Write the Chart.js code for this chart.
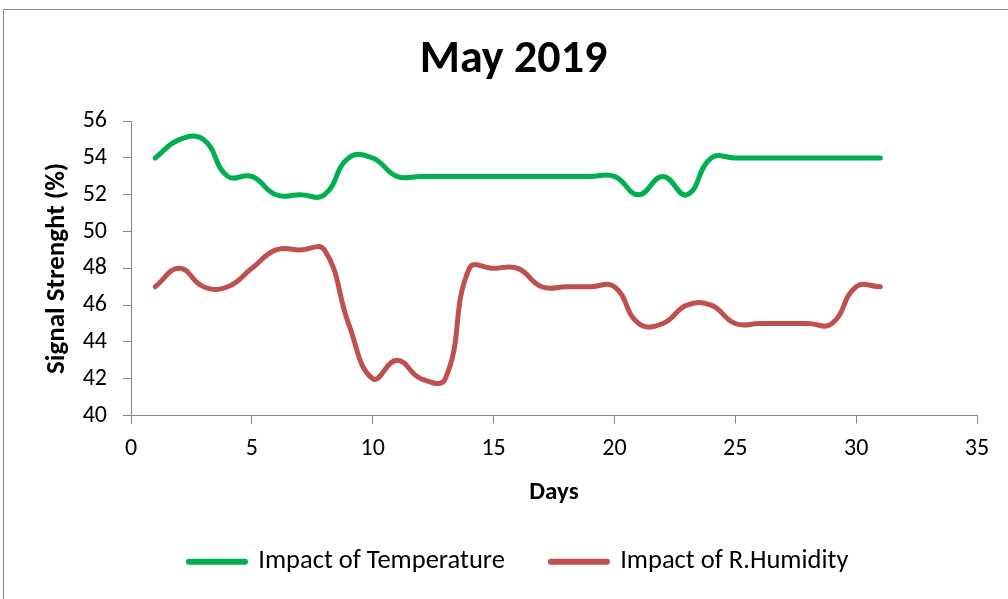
<!DOCTYPE html>
<html>
<head>
<meta charset="utf-8">
<title>May 2019</title>
<script src="https://cdn.jsdelivr.net/npm/chart.js@4.4.1/dist/chart.umd.min.js"></script>
<style>
  html, body { margin: 0; padding: 0; background: #fff; }
  #wrap { position: relative; width: 1008px; height: 599px; overflow: hidden; }
</style>
</head>
<body>
<div id="wrap"><canvas id="chart" width="1008" height="599"></canvas></div>
<script>
// Chart data
const days = [1, 2, 3, 4, 5, 6, 7, 8, 9, 10, 11, 12, 13, 14, 15, 16, 17, 18, 19, 20, 21, 22, 23, 24, 25, 26, 27, 28, 29, 30, 31];
const temperature = [54, 55, 55, 53, 53, 52, 52, 52, 54, 54, 53, 53, 53, 53, 53, 53, 53, 53, 53, 53, 52, 53, 52, 54, 54, 54, 54, 54, 54, 54, 54];
const humidity = [47, 48, 47, 47, 48, 49, 49, 49, 45, 42, 43, 42, 42, 48, 48, 48, 47, 47, 47, 47, 45, 45, 46, 46, 45, 45, 45, 45, 45, 47, 47];
const seriesLabels = ['Impact of Temperature', 'Impact of R.Humidity'];
const xTicks = [0, 5, 10, 15, 20, 25, 30, 35];
const yTicks = [40, 42, 44, 46, 48, 50, 52, 54, 56];

const FONT = 'Carlito, Lato, "Noto Sans", sans-serif';
const AXIS_GRAY = '#868686';

// white page + grey frame round the chart (right/bottom edges run off the page)
const framePlugin = {
    id: 'frame',
    beforeDraw(chart) {
        const ctx = chart.ctx;
        ctx.save();
        ctx.fillStyle = '#fff';
        ctx.fillRect(0, 0, chart.width, chart.height);
        ctx.strokeStyle = '#8a8a8a';
        ctx.lineWidth = 1;
        ctx.strokeRect(3.5, 9.5, chart.width + 20, chart.height + 20);
        ctx.restore();
    }
};

// title and legend sit a little right of the canvas centre in the original
const nudgePlugin = {
    id: 'nudge',
    afterLayout(chart) {
        const t = chart.titleBlock;
        if (t) { t.left += 20; t.right += 20; }
        const lg = chart.legend;
        if (lg && lg.lineWidths) {
            const pad = lg.options.labels.padding;
            const start = (lg.left + pad + lg.right - lg.lineWidths[0]) / 2;
            const dx = 189 - start;
            lg.left += dx;
            lg.right += dx;
        }
    }
};

function toPoints(values) {
    return days.map((d, i) => ({ x: d, y: values[i] }));
}

const ctx = document.getElementById('chart').getContext('2d');
new Chart(ctx, {
    type: 'line',
    data: {
        datasets: [
            {
                label: seriesLabels[0],
                data: toPoints(temperature),
                borderColor: '#00B050',
                backgroundColor: '#00B050',
                borderWidth: 5,
                pointRadius: 0,
                tension: 0.45,
                borderCapStyle: 'round',
                borderJoinStyle: 'round'
            },
            {
                label: seriesLabels[1],
                data: toPoints(humidity),
                borderColor: '#C0504D',
                backgroundColor: '#C0504D',
                borderWidth: 5,
                pointRadius: 0,
                tension: 0.45,
                borderCapStyle: 'round',
                borderJoinStyle: 'round'
            }
        ]
    },
    options: {
        responsive: false,
        animation: false,
        devicePixelRatio: 1,
        layout: {
            padding: { top: 33, left: 10, right: 31, bottom: 14 }
        },
        plugins: {
            title: {
                display: true,
                text: 'May 2019',
                color: '#000',
                font: { family: FONT, size: 46, weight: 'bold' },
                padding: { top: 0, bottom: 33 }
            },
            legend: {
                position: 'bottom',
                labels: {
                    usePointStyle: true,
                    pointStyleWidth: 56,
                    padding: 46,
                    color: '#000',
                    font: { family: FONT, size: 26.5 },
                    generateLabels(chart) {
                        return chart.data.datasets.map((ds, i) => ({
                            text: ds.label,
                            fillStyle: ds.borderColor,
                            strokeStyle: ds.borderColor,
                            lineWidth: 6,
                            lineCap: 'round',
                            pointStyle: 'line',
                            hidden: false,
                            datasetIndex: i
                        }));
                    }
                }
            },
            tooltip: { enabled: false }
        },
        scales: {
            x: {
                type: 'linear',
                min: 0,
                max: 35,
                afterBuildTicks(scale) {
                    scale.ticks = xTicks.map(v => ({ value: v }));
                },
                afterFit(scale) {
                    scale.height = 87;
                },
                ticks: {
                    padding: 11,
                    color: '#000',
                    font: { family: FONT, size: 24 }
                },
                grid: {
                    drawOnChartArea: false,
                    tickLength: 8,
                    color: AXIS_GRAY
                },
                border: { color: AXIS_GRAY, width: 1 },
                title: {
                    display: true,
                    text: 'Days',
                    color: '#000',
                    font: { family: FONT, size: 25, weight: 'bold', lineHeight: 0.8 },
                    padding: { top: 0, bottom: 0 }
                }
            },
            y: {
                min: 40,
                max: 56,
                afterBuildTicks(scale) {
                    scale.ticks = yTicks.map(v => ({ value: v }));
                },
                afterFit(scale) {
                    scale.width = 121;
                },
                ticks: {
                    padding: 16,
                    color: '#000',
                    font: { family: FONT, size: 24 }
                },
                grid: {
                    drawOnChartArea: false,
                    tickLength: 8,
                    color: AXIS_GRAY
                },
                border: { color: AXIS_GRAY, width: 1 },
                title: {
                    display: true,
                    text: 'Signal Strenght (%)',
                    color: '#000',
                    font: { family: FONT, size: 27, weight: 'bold', lineHeight: 1 },
                    padding: { top: 34, bottom: 0 }
                }
            }
        }
    },
    plugins: [framePlugin, nudgePlugin]
});
</script>
</body>
</html>
